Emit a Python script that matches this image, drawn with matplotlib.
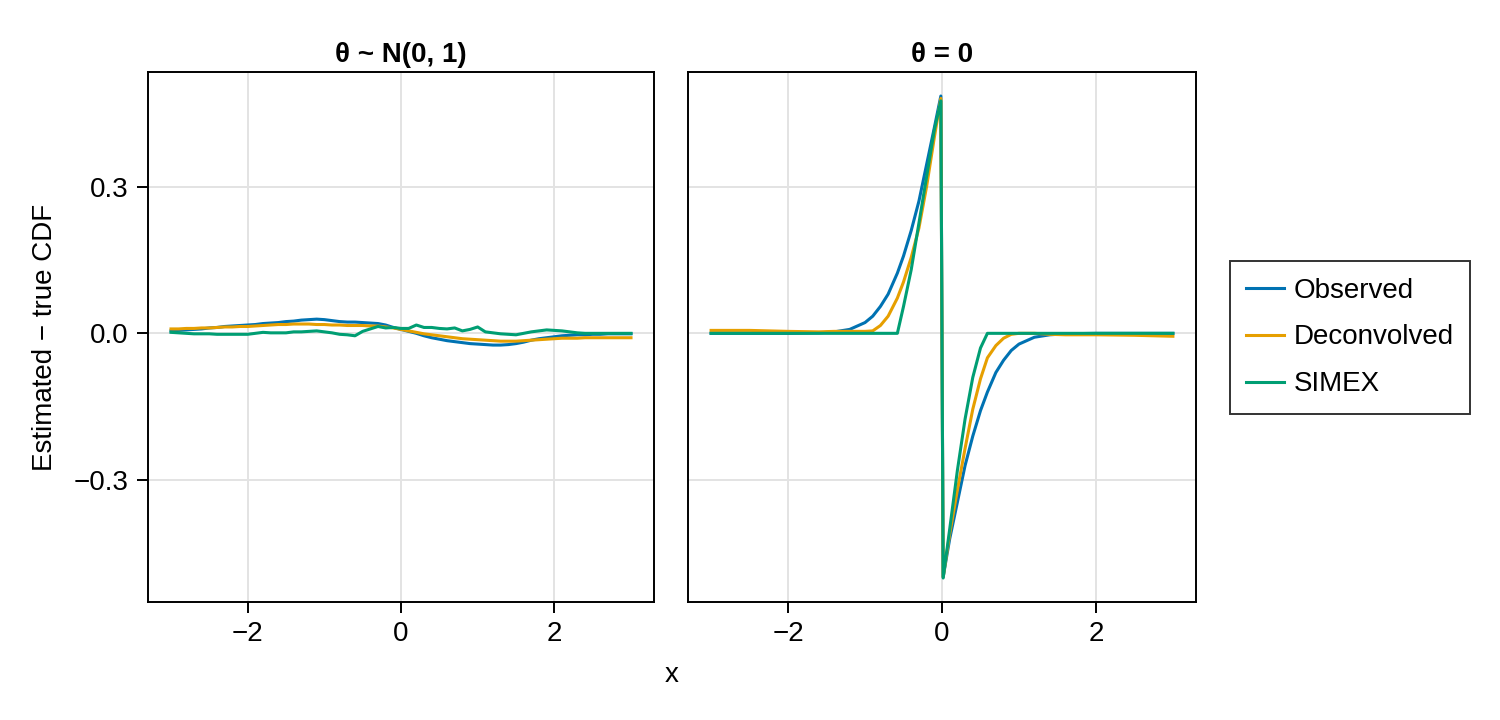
import numpy as np
import matplotlib
matplotlib.use("Agg")
import matplotlib.pyplot as plt

plt.rcParams["font.family"] = ["Liberation Sans", "DejaVu Sans"]
plt.rcParams["axes.unicode_minus"] = True

# left panel: theta ~ N(0, 1), sampled every 0.1 on [-3, 3]
x_left = np.round(np.arange(-3.0, 3.0001, 0.1), 1)

obs_left = [0.005, 0.006, 0.007, 0.008, 0.009, 0.011, 0.012, 0.014, 0.015, 0.016,
            0.017, 0.018, 0.020, 0.021, 0.022, 0.024, 0.025, 0.027, 0.028, 0.029,
            0.028, 0.026, 0.024, 0.023, 0.023, 0.022, 0.021, 0.020, 0.017, 0.012,
            0.008, 0.004, 0.000, -0.005, -0.009, -0.012, -0.015, -0.017, -0.019, -0.021,
            -0.022, -0.023, -0.024, -0.024, -0.023, -0.021, -0.018, -0.014, -0.011, -0.009,
            -0.007, -0.005, -0.004, -0.003, -0.003, -0.002, -0.002, -0.001, -0.001, -0.001,
            -0.001]

dec_left = [0.009, 0.009, 0.010, 0.010, 0.011, 0.011, 0.012, 0.013, 0.013, 0.014,
            0.014, 0.015, 0.016, 0.017, 0.018, 0.018, 0.019, 0.019, 0.019, 0.018,
            0.018, 0.017, 0.017, 0.016, 0.016, 0.016, 0.015, 0.015, 0.013, 0.011,
            0.008, 0.005, 0.002, -0.001, -0.003, -0.005, -0.007, -0.009, -0.011, -0.012,
            -0.013, -0.014, -0.015, -0.016, -0.016, -0.016, -0.015, -0.014, -0.013, -0.012,
            -0.011, -0.010, -0.010, -0.010, -0.009, -0.009, -0.009, -0.009, -0.009, -0.009,
            -0.009]

simex_left = [0.002, 0.001, 0.000, -0.001, -0.001, -0.001, -0.002, -0.002, -0.002, -0.002,
              -0.002, 0.000, 0.002, 0.001, 0.001, 0.001, 0.003, 0.003, 0.004, 0.005,
              0.003, 0.001, -0.002, -0.003, -0.005, 0.004, 0.009, 0.014, 0.011, 0.012,
              0.010, 0.010, 0.017, 0.012, 0.012, 0.010, 0.009, 0.011, 0.005, 0.008,
              0.013, 0.003, 0.001, -0.001, -0.002, -0.003, 0.000, 0.003, 0.005, 0.007,
              0.006, 0.005, 0.003, 0.001, 0.000, 0.000, 0.000, 0.000, 0.000, 0.000,
              0.000]

# right panel: theta = 0 (point mass)
x_right = [-3.0, -2.5, -2.0, -1.6, -1.4, -1.2, -1.0, -0.9, -0.8, -0.7, -0.58, -0.5,
           -0.4, -0.3, -0.2, -0.1, -0.015, 0.015, 0.1, 0.2, 0.3, 0.4, 0.5, 0.59,
           0.7, 0.8, 0.9, 1.0, 1.2, 1.4, 1.6, 2.0, 2.5, 3.0]

obs_right = [0.0, 0.0, 0.0, 0.001, 0.003, 0.008, 0.022, 0.035, 0.055, 0.08, 0.123, 0.158,
             0.21, 0.27, 0.345, 0.42, 0.485, -0.498, -0.42, -0.345, -0.27, -0.21, -0.158, -0.12,
             -0.08, -0.055, -0.035, -0.022, -0.008, -0.003, -0.001, 0.0, 0.0, 0.0]

dec_right = [0.006, 0.006, 0.004, 0.003, 0.004, 0.004, 0.004, 0.005, 0.016, 0.035, 0.072, 0.105,
             0.155, 0.215, 0.30, 0.40, 0.48, -0.498, -0.41, -0.32, -0.235, -0.155, -0.093, -0.05,
             -0.025, -0.01, -0.002, 0.0, 0.0, -0.002, -0.003, -0.003, -0.004, -0.006]

simex_right = [0.0, 0.0, 0.0, 0.0, 0.0, 0.0, 0.0, 0.0, 0.0, 0.0, 0.0, 0.055,
               0.13, 0.225, 0.32, 0.415, 0.475, -0.50, -0.40, -0.28, -0.175, -0.09, -0.03, 0.0,
               0.0, 0.0, 0.0, 0.0, 0.0, 0.0, 0.0, 0.0, 0.0, 0.0]

titles = ["θ ~ N(0, 1)", "θ = 0"]
labels = ["Observed", "Deconvolved", "SIMEX"]
colors = ["#0072B2", "#E69F00", "#009E73"]

panels = [
    (x_left, [obs_left, dec_left, simex_left]),
    (x_right, [obs_right, dec_right, simex_right]),
]

FS = 20

fig = plt.figure(figsize=(15, 7.2), dpi=100)
ax1 = fig.add_axes([148 / 1500, 118 / 720, 506 / 1500, 530 / 720])
ax2 = fig.add_axes([688 / 1500, 118 / 720, 508 / 1500, 530 / 720], sharey=ax1)

for i, (ax, (xs, series)) in enumerate(zip([ax1, ax2], panels)):
    lines = []
    for ys, c, lab in zip(series, colors, labels):
        ln, = ax.plot(xs, ys, color=c, lw=2.2, label=lab, solid_joinstyle="round")
        lines.append(ln)
    ax.set_xlim(-3.3, 3.3)
    ax.set_ylim(-0.549, 0.534)
    ax.set_xticks([-2, 0, 2])
    ax.set_yticks([-0.3, 0.0, 0.3])
    ax.set_yticklabels(["−0.3", "0.0", "0.3"])
    ax.set_xticklabels(["−2", "0", "2"])
    ax.grid(True, color="#e3e3e3", lw=1.4)
    ax.set_axisbelow(True)
    for s in ax.spines.values():
        s.set_linewidth(1.4)
        s.set_color("black")
    ax.tick_params(labelsize=FS, length=8, width=1.4, pad=6)
    ax.set_title(titles[i], fontsize=FS, fontweight="bold", pad=7)

ax2.tick_params(axis="y", left=False, labelleft=False)
ax1.set_ylabel("Estimated − true CDF", fontsize=FS, labelpad=11)
fig.text(672 / 1500, 1 - 675 / 720, "x", fontsize=FS, ha="center", va="center")

leg = fig.legend(lines, labels, loc="center", bbox_to_anchor=(1350 / 1500, 1 - 337.5 / 720),
                 fontsize=FS, frameon=True, fancybox=False, edgecolor="black",
                 handlelength=1.35, handletextpad=0.36, labelspacing=0.75, borderpad=0.6)
leg.get_frame().set_linewidth(1.4)

fig.savefig("out.png", dpi=100)
